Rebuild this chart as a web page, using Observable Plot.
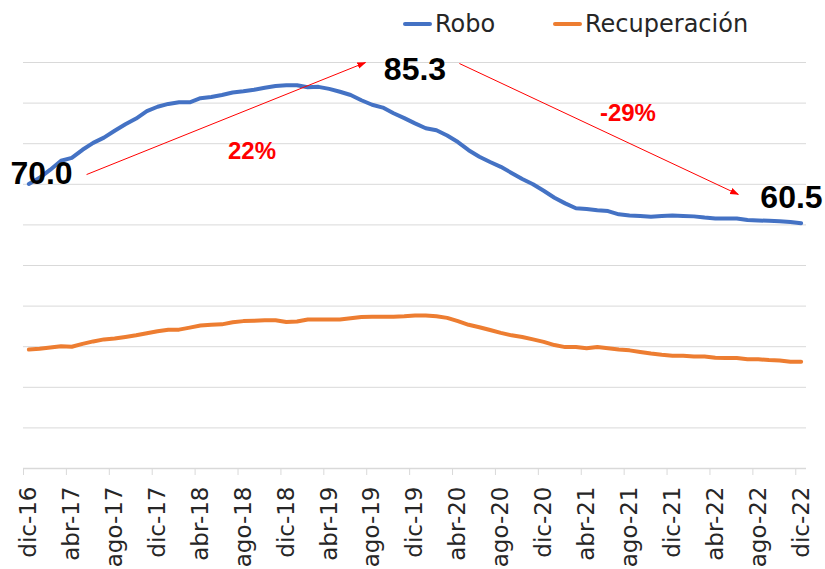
<!DOCTYPE html>
<html><head><meta charset="utf-8">
<script src="https://cdn.jsdelivr.net/npm/d3@7"></script>
<script src="https://cdn.jsdelivr.net/npm/@observablehq/plot@0.6"></script>
<style>
body{margin:0;background:#fff;}
#wrap{position:relative;width:825px;height:569px;}
.item{position:absolute;top:12px;height:24px;line-height:24px;display:flex;align-items:center;font-family:"DejaVu Sans",sans-serif;font-size:24px;color:#262626;white-space:nowrap;}
.sw{display:inline-block;width:29px;height:4px;border-radius:2px;margin-right:3px;}
</style></head><body>
<div id="wrap"></div>
<script>
// Monthly series, dic-16 .. dic-22 (73 months)
const tickLabels = ["dic-16","abr-17","ago-17","dic-17","abr-18","ago-18","dic-18","abr-19","ago-19","dic-19","abr-20","ago-20","dic-20","abr-21","ago-21","dic-21","abr-22","ago-22","dic-22"];
const robo = [70.1,71.6,73.6,75.8,76.5,78.5,80.2,81.5,83.2,84.8,86.2,88.0,89.1,89.8,90.2,90.2,91.2,91.5,92.0,92.6,92.9,93.3,93.8,94.2,94.4,94.4,93.9,94.0,93.5,92.8,92.0,90.7,89.6,88.9,87.5,86.3,85.0,83.8,83.3,82.0,80.4,78.4,76.8,75.5,74.3,72.8,71.3,70.0,68.4,66.7,65.3,64.1,63.9,63.6,63.4,62.6,62.3,62.2,62.0,62.2,62.3,62.2,62.1,61.8,61.6,61.6,61.6,61.2,61.1,61.0,60.9,60.7,60.4];
const recuperacion = [29.3,29.5,29.8,30.1,30.0,30.7,31.3,31.8,32.0,32.4,32.8,33.3,33.8,34.2,34.2,34.7,35.2,35.4,35.5,36.0,36.3,36.4,36.5,36.5,36.1,36.2,36.7,36.7,36.7,36.7,37.0,37.3,37.4,37.4,37.4,37.5,37.7,37.7,37.5,37.1,36.3,35.4,34.8,34.1,33.4,32.8,32.4,31.8,31.2,30.4,29.9,29.9,29.6,29.9,29.6,29.3,29.1,28.7,28.3,28.0,27.8,27.8,27.6,27.6,27.3,27.2,27.2,26.9,26.9,26.7,26.6,26.3,26.3];
const seriesNames = ["Robo","Recuperación"];
const seriesColors = ["#4472C4","#ED7D31"];
// annotations (in data units: month index, value)
const valueLabels = [{i:1.18,v:72.5,t:"70.0"},{i:36.0,v:98.3,t:"85.3"},{i:71.1,v:66.6,t:"60.5"}];
const pctLabels = [{i:20.8,v:78.2,t:"22%"},{i:55.85,v:87.4,t:"-29%"}];
const arrows = [{i1:5.38,v1:72.4,i2:31.38,v2:100.0},{i1:40.14,v1:99.75,i2:66.14,v2:67.5}];

const n = robo.length;
const rows = [];
robo.forEach((v,i)=>rows.push({i,v,s:seriesNames[0]}));
recuperacion.forEach((v,i)=>rows.push({i,v,s:seriesNames[1]}));
const labelIdx = tickLabels.map((_,k)=>k*4);
const boundaries = tickLabels.map((_,k)=>k*4-0.5);

const ns = "http://www.w3.org/2000/svg";
function triMarker(color, context){
  const doc = (context && context.document) || document;
  const m = doc.createElementNS(ns,"marker");
  m.setAttribute("viewBox","-5 -5 10 10");
  m.setAttribute("markerWidth","9");
  m.setAttribute("markerHeight","9");
  m.setAttribute("markerUnits","userSpaceOnUse");
  m.setAttribute("refX","4");
  m.setAttribute("orient","auto");
  const p = doc.createElementNS(ns,"path");
  p.setAttribute("d","M-5,-3.6L5,0L-5,3.6Z");
  p.setAttribute("fill",color);
  p.setAttribute("stroke","none");
  m.appendChild(p);
  return m;
}

const chart = Plot.plot({
  width: 825, height: 569,
  marginLeft: 23, marginRight: 19, marginTop: 62, marginBottom: 101,
  style: {background:"#fff", overflow:"visible"},
  x: {type:"linear", domain:[-0.5, n-0.5]},
  y: {domain:[0,100], axis:null},
  color: {domain: seriesNames, range: seriesColors},
  marks: [
    Plot.gridY(d3.range(10,101,10), {stroke:"#d9d9d9", strokeOpacity:1, strokeWidth:1}),
    Plot.ruleY([0], {stroke:"#d9d9d9", strokeWidth:1.3}),
    Plot.axisX(boundaries, {tickSize:7, stroke:"#d9d9d9", tickFormat:()=>""}),
    Plot.axisX(labelIdx, {tickSize:0, tickPadding:18, tickRotate:-90, tickFormat:(d)=>tickLabels[Math.round(d/4)], fontSize:23, fontFamily:"DejaVu Sans", fill:"#262626"}),
    Plot.line(rows, {x:"i", y:"v", z:"s", stroke:"s", strokeWidth:4, strokeLinejoin:"round", strokeLinecap:"round"}),
    Plot.link(arrows, {x1:"i1", y1:"v1", x2:"i2", y2:"v2", stroke:"#FF0000", strokeWidth:1, markerEnd: triMarker}),
    Plot.text(valueLabels, {x:"i", y:"v", text:"t", fontSize:32, fontWeight:"bold", fontFamily:"Liberation Sans", fill:"#000", textAnchor:"middle", lineAnchor:"middle"}),
    Plot.text(pctLabels, {x:"i", y:"v", text:"t", fontSize:24, fontWeight:"bold", fontFamily:"Liberation Sans", fill:"#FF0000", textAnchor:"middle", lineAnchor:"middle"})
  ]
});
const wrap = document.getElementById("wrap");
wrap.appendChild(chart);
const legendLeft = [403, 553];
seriesNames.forEach((name,k)=>{
  const it = document.createElement("div");
  it.className = "item";
  it.style.left = legendLeft[k]+"px";
  const sw = document.createElement("span");
  sw.className = "sw"; sw.style.background = seriesColors[k];
  it.appendChild(sw);
  it.appendChild(document.createTextNode(name));
  wrap.appendChild(it);
});
</script>
</body></html>
